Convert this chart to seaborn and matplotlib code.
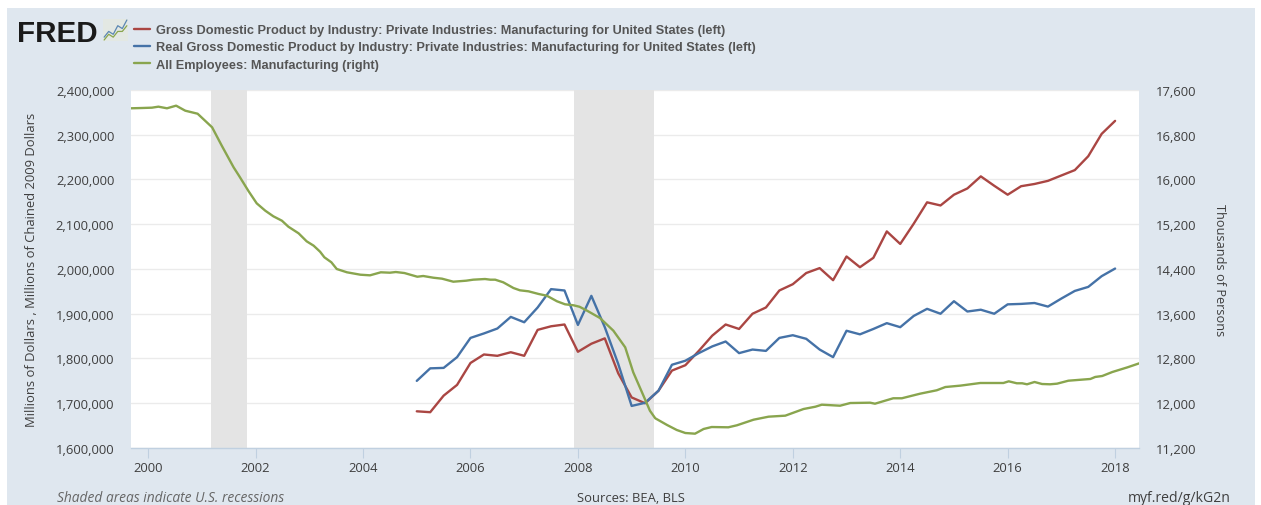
import pandas as pd
import numpy as np
import matplotlib
matplotlib.use('Agg')
import matplotlib.pyplot as plt
from matplotlib.patches import Rectangle
from matplotlib.ticker import FuncFormatter
import seaborn as sns

# values
quarters = [2005 + i * 0.25 for i in range(53)]
gdp = [1682, 1680, 1717, 1741, 1790, 1809, 1806, 1814, 1806, 1864, 1872, 1876, 1815, 1833, 1845, 1767,
       1713, 1700, 1728, 1773, 1785, 1817, 1851, 1876, 1866, 1900, 1914, 1952, 1966, 1991, 2002, 1975,
       2028, 2004, 2025, 2084, 2056, 2101, 2149, 2142, 2166, 2180, 2207, 2186, 2166, 2185, 2190, 2197,
       2209, 2221, 2252, 2302, 2331]
real_gdp = [1750, 1778, 1779, 1803, 1846, 1856, 1867, 1893, 1881, 1914, 1955, 1952, 1875, 1940, 1870, 1788,
            1694, 1701, 1728, 1786, 1795, 1812, 1827, 1838, 1812, 1820, 1817, 1846, 1852, 1844, 1820, 1803,
            1862, 1854, 1866, 1879, 1870, 1895, 1911, 1900, 1928, 1905, 1909, 1900, 1921, 1922, 1924, 1916,
            1934, 1951, 1960, 1984, 2001]

emp_dates = [1999.68, 1999.88, 2000.07, 2000.19, 2000.35, 2000.52, 2000.69, 2000.92, 2001.19, 2001.37,
             2001.59, 2001.69, 2001.87, 2002.02, 2002.18, 2002.33, 2002.49, 2002.61, 2002.80, 2002.95,
             2003.08, 2003.20, 2003.28, 2003.41, 2003.51, 2003.70, 2003.95, 2004.13, 2004.33, 2004.50,
             2004.61, 2004.77, 2005.01, 2005.12, 2005.31, 2005.47, 2005.68, 2005.92, 2006.05, 2006.27,
             2006.37, 2006.46, 2006.61, 2006.80, 2006.92, 2007.08, 2007.27, 2007.42, 2007.61, 2007.76,
             2007.92, 2008.03, 2008.17, 2008.41, 2008.66, 2008.88, 2009.03, 2009.22, 2009.34, 2009.44,
             2009.66, 2009.84, 2010.00, 2010.18, 2010.34, 2010.49, 2010.80, 2010.96, 2011.27, 2011.55,
             2011.86, 2012.20, 2012.42, 2012.54, 2012.88, 2013.07, 2013.44, 2013.53, 2013.87, 2014.03,
             2014.37, 2014.68, 2014.84, 2015.12, 2015.49, 2015.74, 2015.92, 2016.02, 2016.17, 2016.27,
             2016.36, 2016.50, 2016.64, 2016.79, 2016.92, 2017.13, 2017.54, 2017.63, 2017.76, 2017.95,
             2018.23, 2018.45]
employees = [17273, 17278, 17284, 17302, 17273, 17320, 17230, 17176, 16933, 16604,
             16218, 16068, 15789, 15574, 15442, 15342, 15263, 15156, 15038, 14895,
             14817, 14709, 14609, 14520, 14400, 14341, 14298, 14287, 14341, 14334,
             14346, 14328, 14262, 14275, 14244, 14227, 14173, 14191, 14209, 14221,
             14209, 14209, 14162, 14060, 14019, 14001, 13953, 13923, 13823, 13769,
             13751, 13725, 13655, 13524, 13297, 13000, 12553, 12135, 11867, 11731,
             11611, 11522, 11468, 11456, 11540, 11575, 11570, 11606, 11706, 11760,
             11778, 11897, 11938, 11974, 11956, 12004, 12010, 11992, 12089, 12089,
             12171, 12232, 12290, 12315, 12362, 12362, 12362, 12392, 12357, 12357,
             12339, 12380, 12344, 12339, 12350, 12403, 12434, 12470, 12487, 12559,
             12642, 12714]

recessions = [(2001.17, 2001.84), (2007.92, 2009.42)]
left_ticks = [1600000, 1700000, 1800000, 1900000, 2000000, 2100000, 2200000, 2300000, 2400000]
right_ticks = [11200, 12000, 12800, 13600, 14400, 15200, 16000, 16800, 17600]
year_ticks = [2000, 2002, 2004, 2006, 2008, 2010, 2012, 2014, 2016, 2018]

names = ['Gross Domestic Product by Industry: Private Industries: Manufacturing for United States (left)',
         'Real Gross Domestic Product by Industry: Private Industries: Manufacturing for United States (left)',
         'All Employees: Manufacturing (right)']

# little chart in the logo
icon_x = [0, 1, 2, 3, 4, 5]
icon_a = [1, 3, 2, 5, 4, 7]
icon_b = [0, 2, 1, 3, 3, 5]

RED, BLUE, GREEN = '#aa4643', '#4572a7', '#89a54e'
BG = '#dfe7ef'
AXIS = '#c0d0e0'
TXT = '#3f3f3f'
W, H = 1261, 506

sns.set_theme(style='white')
plt.rcParams['font.family'] = ['Open Sans', 'DejaVu Sans']

fig = plt.figure(figsize=(W / 100, H / 100), dpi=100, facecolor='white')
fig.patches.append(Rectangle((7 / W, 0), 1248 / W, 497 / H, transform=fig.transFigure,
                             facecolor=BG, edgecolor='none', zorder=-5))

ax = fig.add_axes([131 / W, 1 - 449 / H, 1008 / W, 358 / H])
ax.set_facecolor('white')

df = pd.DataFrame({'date': quarters, 'gdp': np.array(gdp) * 1000, 'real': np.array(real_gdp) * 1000})
emp = pd.DataFrame({'date': emp_dates, 'employees': employees})

for a, b in recessions:
    ax.axvspan(a, b, color='#e4e4e4', lw=0)

sns.lineplot(data=df, x='date', y='gdp', color=RED, lw=1.7, ax=ax, legend=False)
sns.lineplot(data=df, x='date', y='real', color=BLUE, lw=1.7, ax=ax, legend=False)

ax.set_xlim(1999.68, 2018.445)
ax.set_ylim(1600000, 2400000)
ax.set_xticks(year_ticks)
ax.set_yticks(left_ticks)
ax.yaxis.set_major_formatter(FuncFormatter(lambda v, p: f'{int(v):,}'))
ax.grid(axis='y', color='#ebebeb', lw=1)
ax.set_axisbelow(True)
ax.tick_params(axis='x', length=7, width=0.8, color=AXIS, labelsize=9.4, labelcolor=TXT, pad=2.5, bottom=True)
ax.tick_params(axis='y', length=0, labelsize=9.4, labelcolor=TXT, pad=12)
ax.set_xlabel('')
ax.set_ylabel('')
for s in ['top', 'left', 'right']:
    ax.spines[s].set_visible(False)
ax.spines['bottom'].set_color(AXIS)
ax.spines['bottom'].set_linewidth(1)

ax2 = ax.twinx()
sns.lineplot(data=emp, x='date', y='employees', color=GREEN, lw=1.7, ax=ax2, legend=False)
ax2.set_ylim(11200, 17600)
ax2.set_yticks(right_ticks)
ax2.yaxis.set_major_formatter(FuncFormatter(lambda v, p: f'{int(v):,}'))
ax2.tick_params(axis='y', length=0, labelsize=9.4, labelcolor=TXT, pad=12)
ax2.grid(False)
ax2.set_xlabel('')
ax2.set_ylabel('')
for s in ax2.spines.values():
    s.set_visible(False)

fig.text(32 / W, 1 - 270 / H, 'Millions of Dollars , Millions of Chained 2009 Dollars', rotation=90,
         ha='center', va='center', fontsize=9.4, color=TXT)
fig.text(1219 / W, 1 - 270 / H, 'Thousands of Persons', rotation=270,
         ha='center', va='center', fontsize=9.2, color=TXT)

# legend
handles = [ax.lines[0], ax.lines[1], ax2.lines[0]]
fig.legend(handles, names, loc='upper left', bbox_to_anchor=(134 / W, 1 - 25 / H), frameon=False,
           prop={'family': ['Liberation Sans'], 'size': 9.2, 'weight': 'bold'},
           labelcolor='#555555', handlelength=1.25, handletextpad=0.45, labelspacing=0.42,
           borderpad=0, borderaxespad=0)

# logo
fig.text(17 / W, 1 - 42 / H, 'FRED', family='Liberation Sans', weight='bold', fontsize=21.3,
         color='#1a1a1a', ha='left', va='baseline')
icon = fig.add_axes([103 / W, 1 - 42 / H, 25 / W, 22 / H])
icon.set_facecolor('#e3e8e3')
sns.lineplot(x=icon_x, y=icon_a, color='#5b87b2', lw=0.9, ax=icon, legend=False)
sns.lineplot(x=icon_x, y=icon_b, color='#89a54e', lw=0.9, ax=icon, legend=False)
icon.set_xlabel('')
icon.set_ylabel('')
icon.set_xticks([])
icon.set_yticks([])
for s in icon.spines.values():
    s.set_visible(False)

# footer
fig.text(57 / W, 1 - 499 / H, 'Shaded areas indicate U.S. recessions', style='italic', fontsize=9.9,
         color='#666666', ha='left', va='center')
fig.text(631 / W, 1 - 499 / H, 'Sources: BEA, BLS', fontsize=9.4, color=TXT, ha='center', va='center')
fig.text(1231 / W, 1 - 499 / H, 'myf.red/g/kG2n', fontsize=10.1, color=TXT, ha='right', va='center')

fig.savefig('out.png', dpi=100, facecolor='white')
